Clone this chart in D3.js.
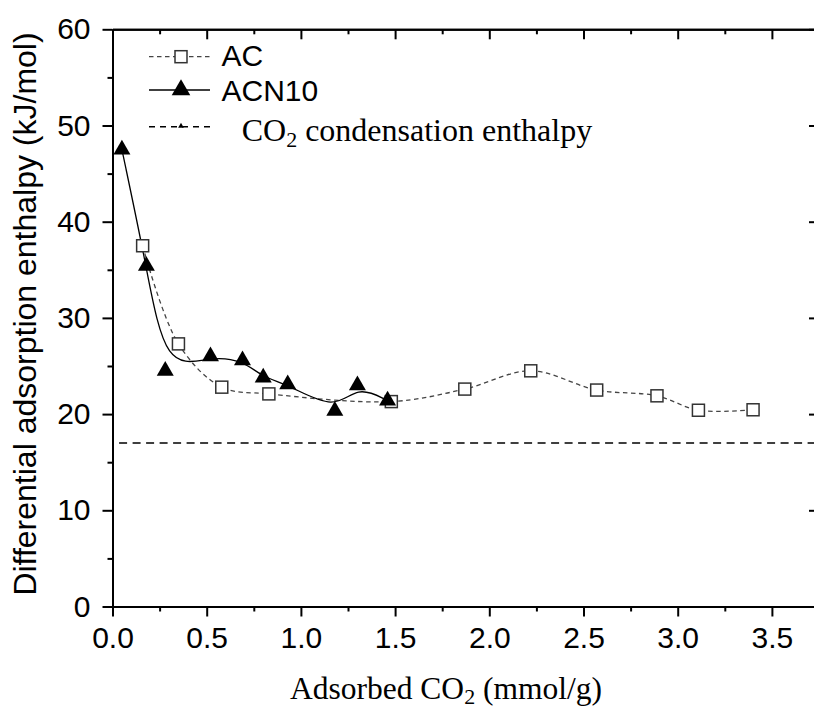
<!DOCTYPE html>
<html lang="en">
<head>
<meta charset="utf-8" />
<title>Differential adsorption enthalpy</title>
<script src="https://d3js.org/d3.v7.min.js"></script>
<style>
  body { margin: 0; background: #fff; }
  svg { display: block; }
</style>
</head>
<body>
<div id="chart"></div>
<script>
// values
const acX  = [0.16, 0.35, 0.58, 0.83, 1.48, 1.87, 2.22, 2.57, 2.89, 3.11, 3.40];
const acY  = [37.5, 27.3, 22.8, 22.1, 21.3, 22.6, 24.5, 22.5, 21.9, 20.4, 20.45];
const acnX = [0.05, 0.18, 0.28, 0.52, 0.69, 0.80, 0.93, 1.18, 1.30, 1.46];
const acnY = [47.5, 35.4, 24.5, 26.0, 25.6, 23.8, 23.1, 20.35, 23.0, 21.4];
const condensationY = 17;
const condensationX = [0.035, 3.75];
const xTicks = [0, 0.5, 1.0, 1.5, 2.0, 2.5, 3.0, 3.5];
const yTicks = [0, 10, 20, 30, 40, 50, 60];
const legendLabels = ["AC", "ACN10", "CO2 condensation enthalpy"];

const width = 814, height = 708;
const margin = {left: 112.5, top: 29.3};
const plotW = 706.5, plotH = 577.2;

const sans = "'Liberation Sans', Arial, sans-serif";
const serif = "'Liberation Serif', 'Times New Roman', serif";

const x = d3.scaleLinear().domain([0, 3.75]).range([margin.left, margin.left + plotW]);
const y = d3.scaleLinear().domain([0, 60]).range([margin.top + plotH, margin.top]);

const svg = d3.select("#chart").append("svg")
    .attr("width", width)
    .attr("height", height)
    .attr("viewBox", [0, 0, width, height]);

const minorX = d3.range(0.25, 3.75, 0.5);
const minorY = d3.range(5, 60, 10);

// bottom axis
svg.append("g")
    .attr("transform", `translate(0,${y(0)})`)
    .call(d3.axisBottom(x).tickValues(xTicks).tickSize(10).tickPadding(10.5).tickSizeOuter(0)
      .tickFormat(d3.format(".1f")));
svg.append("g")
    .attr("transform", `translate(0,${y(0)})`)
    .call(d3.axisBottom(x).tickValues(minorX).tickSize(5).tickFormat("").tickSizeOuter(0));

// top axis, ticks inward
svg.append("g")
    .attr("transform", `translate(0,${y(60)})`)
    .call(d3.axisBottom(x).tickValues(xTicks).tickSize(10).tickFormat("").tickSizeOuter(0));
svg.append("g")
    .attr("transform", `translate(0,${y(60)})`)
    .call(d3.axisBottom(x).tickValues(minorX).tickSize(5).tickFormat("").tickSizeOuter(0));

// left axis
svg.append("g")
    .attr("transform", `translate(${x(0)},0)`)
    .call(d3.axisLeft(y).tickValues(yTicks).tickSize(10).tickPadding(12).tickSizeOuter(0));
svg.append("g")
    .attr("transform", `translate(${x(0)},0)`)
    .call(d3.axisLeft(y).tickValues(minorY).tickSize(5).tickFormat("").tickSizeOuter(0));

// right axis, ticks inward (line itself falls just off the picture)
svg.append("g")
    .attr("transform", `translate(${x(3.75)},0)`)
    .call(d3.axisLeft(y).tickValues(yTicks).tickSize(10).tickFormat("").tickSizeOuter(0));
svg.append("g")
    .attr("transform", `translate(${x(3.75)},0)`)
    .call(d3.axisLeft(y).tickValues(minorY).tickSize(5).tickFormat("").tickSizeOuter(0));

svg.selectAll(".domain").attr("stroke", "#000").attr("stroke-width", 2);
svg.selectAll(".tick line").attr("stroke", "#000").attr("stroke-width", 2);
svg.selectAll(".tick text")
    .attr("font-family", sans)
    .attr("font-size", 30)
    .attr("fill", "#000");

// condensation enthalpy line
svg.append("line")
    .attr("x1", x(condensationX[0])).attr("x2", x(condensationX[1]))
    .attr("y1", y(condensationY)).attr("y2", y(condensationY))
    .attr("stroke", "#000")
    .attr("stroke-width", 1.6)
    .attr("stroke-dasharray", "8,5.5");

const acData = acX.map((v, i) => [v, acY[i]]);
const acnData = acnX.map((v, i) => [v, acnY[i]]);

// AC: dashed spline through points
svg.append("path")
    .datum(acData)
    .attr("fill", "none")
    .attr("stroke", "#444")
    .attr("stroke-width", 1.3)
    .attr("stroke-dasharray", "4.5,3.5")
    .attr("d", d3.line().x(d => x(d[0])).y(d => y(d[1])).curve(d3.curveCatmullRom.alpha(0.5)));

// ACN10: smoothed solid line
svg.append("path")
    .datum(acnData)
    .attr("fill", "none")
    .attr("stroke", "#000")
    .attr("stroke-width", 1.3)
    .attr("d", d3.line().x(d => x(d[0])).y(d => y(d[1])).curve(d3.curveBasis));

svg.append("g")
  .selectAll("rect")
  .data(acData)
  .join("rect")
    .attr("x", d => x(d[0]) - 6)
    .attr("y", d => y(d[1]) - 6)
    .attr("width", 12)
    .attr("height", 12)
    .attr("fill", "#fff")
    .attr("stroke", "#333")
    .attr("stroke-width", 1.5);

const tri = d3.symbol().type(d3.symbolTriangle).size(125);
svg.append("g")
  .selectAll("path")
  .data(acnData)
  .join("path")
    .attr("transform", d => `translate(${x(d[0])},${y(d[1])})`)
    .attr("d", tri)
    .attr("fill", "#000");

// legend
const lg = svg.append("g");
lg.append("line")
    .attr("x1", 149).attr("x2", 210).attr("y1", 56.7).attr("y2", 56.7)
    .attr("stroke", "#444").attr("stroke-width", 1.3).attr("stroke-dasharray", "4.5,3.5");
lg.append("rect")
    .attr("x", 175).attr("y", 50.7).attr("width", 12).attr("height", 12)
    .attr("fill", "#fff").attr("stroke", "#333").attr("stroke-width", 1.5);
lg.append("text")
    .attr("x", 221.5).attr("y", 66)
    .attr("font-family", sans).attr("font-size", 30)
    .text(legendLabels[0]);

lg.append("line")
    .attr("x1", 149).attr("x2", 210).attr("y1", 90).attr("y2", 90)
    .attr("stroke", "#000").attr("stroke-width", 1.3);
lg.append("path")
    .attr("transform", "translate(181,90)")
    .attr("d", d3.symbol().type(d3.symbolTriangle).size(150))
    .attr("fill", "#000");
lg.append("text")
    .attr("x", 221.5).attr("y", 101)
    .attr("font-family", sans).attr("font-size", 30)
    .text(legendLabels[1]);

lg.append("line")
    .attr("x1", 149).attr("x2", 210).attr("y1", 126.7).attr("y2", 126.7)
    .attr("stroke", "#000").attr("stroke-width", 1.6).attr("stroke-dasharray", "6,5");
lg.append("path")
    .attr("transform", "translate(181,126)")
    .attr("d", d3.symbol().type(d3.symbolTriangle).size(14))
    .attr("fill", "#000");
const condText = lg.append("text")
    .attr("x", 241.7).attr("y", 140.7)
    .attr("font-family", serif).attr("font-size", 32);
condText.append("tspan").text("CO");
condText.append("tspan").attr("font-size", 22).attr("dy", 6).text("2");
condText.append("tspan").attr("dy", -6).text(" condensation enthalpy");

// axis titles
svg.append("text")
    .attr("transform", "translate(36,314) rotate(-90)")
    .attr("text-anchor", "middle")
    .attr("font-family", sans)
    .attr("font-size", 32)
    .text("Differential adsorption enthalpy (kJ/mol)");

const xt = svg.append("text")
    .attr("x", 446).attr("y", 699)
    .attr("text-anchor", "middle")
    .attr("font-family", serif)
    .attr("font-size", 31.5);
xt.append("tspan").text("Adsorbed CO");
xt.append("tspan").attr("font-size", 22).attr("dy", 5).text("2");
xt.append("tspan").attr("dy", -5).text(" (mmol/g)");
</script>
</body>
</html>
